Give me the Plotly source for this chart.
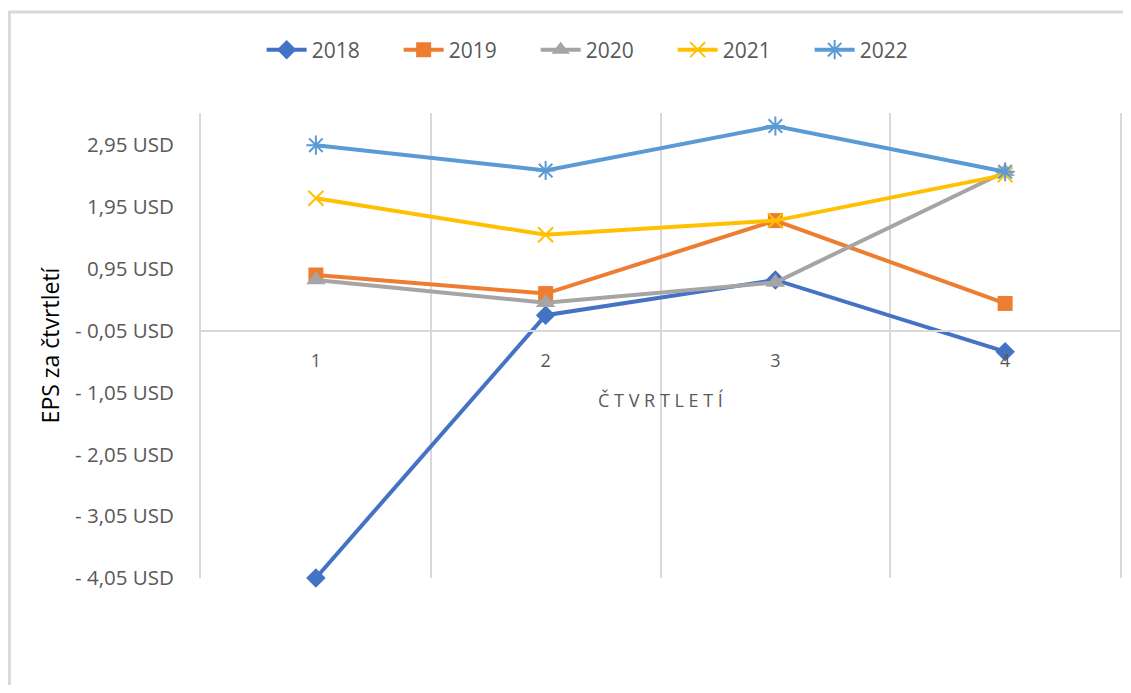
import plotly.graph_objects as go

quarters = [1, 2, 3, 4]
years = ["2018", "2019", "2020", "2021", "2022"]
eps_2018 = [-4.05, 0.20, 0.77, -0.39]
eps_2019 = [0.85, 0.55, 1.73, 0.39]
eps_2020 = [0.77, 0.40, 0.73, 2.52]
eps_2021 = [2.09, 1.50, 1.73, 2.47]
eps_2022 = [2.95, 2.54, 3.26, 2.52]
y_ticks = [2.95, 1.95, 0.95, -0.05, -1.05, -2.05, -3.05, -4.05]
y_ticktext = ["2,95 USD", "1,95 USD", "0,95 USD", "- 0,05 USD",
              "- 1,05 USD", "- 2,05 USD", "- 3,05 USD", "- 4,05 USD"]
quarter_edges = [1.5, 2.5, 3.5]

series = [eps_2018, eps_2019, eps_2020, eps_2021, eps_2022]
colors = ["#4472C4", "#ED7D31", "#A5A5A5", "#FFC000", "#5B9BD5"]
symbols = ["diamond", "square", "triangle-up", "x-thin-open", "asterisk-open"]
sizes = [15, 15, 17, 15, 16]

FONT = "Open Sans"
GRAY = "#595959"
GRID = "#d9d9d9"

y_min, y_max = -4.05, 3.47

fig = go.Figure()
for name, vals, col, sym, sz in zip(years, series, colors, symbols, sizes):
    fig.add_trace(go.Scatter(
        x=quarters, y=vals, name=name,
        mode="lines+markers",
        line=dict(color=col, width=4),
        marker=dict(symbol=sym, size=sz, color=col,
                    line=dict(color=col, width=2 if "open" in sym else 0)),
        cliponaxis=False,
    ))

# horizontal axis crosses at -0.05
x_pos = (-0.05 - y_min) / (y_max - y_min)

# page body has an 8px margin, so the figure is drawn 8px in from the corner
fig.update_layout(
    width=1123, height=677,
    paper_bgcolor="white", plot_bgcolor="white",
    font=dict(family=FONT, size=21, color=GRAY),
    margin=dict(l=193, r=9, t=105, b=107),
    showlegend=True,
    legend=dict(orientation="h", x=0.066, y=1.1355, xanchor="left", yanchor="middle",
                font=dict(size=21, color=GRAY), itemwidth=40,
                entrywidth=82, entrywidthmode="pixels"),
    xaxis=dict(
        range=[0.5, 4.5], anchor="free", position=x_pos,
        tickvals=quarters, ticktext=[str(q) for q in quarters],
        showgrid=False, zeroline=False,
        showline=True, linecolor=GRID, linewidth=2,
        ticks="", ticklabelstandoff=14,
        tickfont=dict(size=18, color=GRAY),
        minor=dict(tickvals=quarter_edges, showgrid=True,
                   gridcolor=GRID, gridwidth=2, ticks=""),
        title=dict(text="Č T V R T L E T Í", font=dict(size=18, color=GRAY), standoff=22),
    ),
    yaxis=dict(
        range=[y_min, y_max],
        tickvals=y_ticks, ticktext=y_ticktext,
        showgrid=False, zeroline=False,
        showline=True, mirror=True, linecolor=GRID, linewidth=2,
        ticks="", ticklabelstandoff=21,
        tickfont=dict(size=20.5, color=GRAY),
        title=dict(text="EPS za čtvrtletí", font=dict(size=23, color="#000000"), standoff=9),
    ),
    shapes=[dict(type="rect", xref="paper", yref="paper",
                 x0=-0.2085, x1=1.05, y0=-0.3, y1=1.217,
                 line=dict(color=GRID, width=3), fillcolor="rgba(0,0,0,0)", layer="below")],
)

fig.write_html("out.html")
